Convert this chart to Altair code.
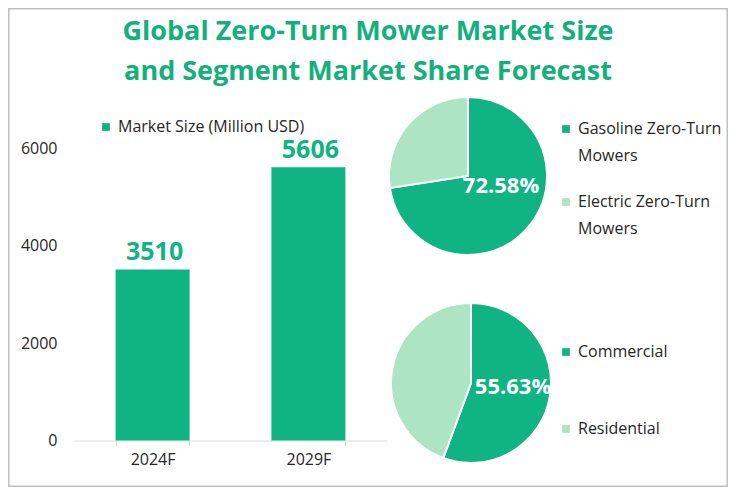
import altair as alt
import pandas as pd

# ---------------- data ----------------
title_lines = ["Global Zero-Turn Mower Market Size", "and Segment Market Share Forecast"]
years = ["2024F", "2029F"]
market_size = [3510, 5606]
bar_series = "Market Size (Million USD)"
y_ticks = [0, 2000, 4000, 6000]

type_labels = ["Gasoline Zero-Turn Mowers", "Electric Zero-Turn Mowers"]
type_share = [72.58, 27.42]
app_labels = ["Commercial", "Residential"]
app_share = [55.63, 44.37]

# ---------------- style ----------------
DARK = "#10B482"
LIGHT = "#ADE4C3"
TITLE_C = "#13B07D"
TXT = "#262626"
FONT = "Open Sans"
W, H = 720, 479

bar_df = pd.DataFrame({"year": years, "value": market_size, "series": [bar_series] * len(years)})
pie1_df = pd.DataFrame({"seg": type_labels, "share": type_share, "ord": list(range(len(type_labels)))})
pie2_df = pd.DataFrame({"seg": app_labels, "share": app_share, "ord": list(range(len(app_labels)))})
pie1_lbl = pd.DataFrame({"t": [f"{type_share[0]:.2f}%"]})
pie2_lbl = pd.DataFrame({"t": [f"{app_share[0]:.2f}%"]})

x_enc = alt.X(
    "year:N", sort=years,
    scale=alt.Scale(range=[66, 379], paddingInner=0.527, paddingOuter=0.268),
    axis=alt.Axis(title=None, labelAngle=0, offset=-46.5, domainColor="#D9D9D9",
                  tickColor="#D9D9D9", tickSize=5, tickBand="extent", grid=False,
                  labelFont=FONT, labelFontSize=16, labelColor=TXT, labelPadding=6),
)
y_enc = alt.Y(
    "value:Q",
    scale=alt.Scale(domain=[0, 6000], range=[432.5, 140], nice=False),
    axis=alt.Axis(title=None, values=y_ticks, format="d", grid=False, domain=False, ticks=False,
                  offset=-49, labelPadding=0, labelFont=FONT, labelFontSize=16,
                  labelColor=TXT),
)

bars = alt.Chart(bar_df).mark_bar(size=74).encode(
    x=x_enc, y=y_enc,
    color=alt.Color("series:N", scale=alt.Scale(domain=[bar_series], range=[DARK]),
                    legend=alt.Legend(title=None, orient="none", legendX=90, legendY=111,
                                      symbolType="square", symbolSize=60,
                                      symbolStrokeWidth=0, labelFont=FONT,
                                      labelFontSize=16, labelColor=TXT, labelOffset=4,
                                      labelLimit=300)),
)
bar_text = alt.Chart(bar_df).mark_text(
    baseline="alphabetic", dy=-9, dx=2, font=FONT, fontSize=25, fontWeight="bold", color=DARK
).encode(x=alt.X("year:N", sort=years), y="value:Q", text="value:Q")

pie1 = alt.Chart(pie1_df).mark_arc(outerRadius=79, stroke="white", strokeWidth=2).encode(
    theta=alt.Theta("share:Q", stack=True),
    order=alt.Order("ord:Q"),
    color=alt.Color("seg:N", scale=alt.Scale(domain=type_labels, range=[DARK, LIGHT]),
                    legend=alt.Legend(title=None, orient="none", legendX=550, legendY=113,
                                      symbolType="square", symbolSize=60, symbolStrokeWidth=0,
                                      labelFont=FONT, labelFontSize=16, labelColor=TXT,
                                      labelOffset=4, labelLimit=220, rowPadding=30,
                                      labelExpr="indexof(datum.label, ' Mowers') > 0 ? [replace(datum.label, ' Mowers', ''), 'Mowers'] : datum.label")),
    x=alt.value(460), y=alt.value(168),
)
pie1_t = alt.Chart(pie1_lbl).mark_text(
    font=FONT, fontSize=22, fontWeight="bold", color="white", baseline="middle"
).encode(text="t:N", x=alt.value(493), y=alt.value(178))

pie2 = alt.Chart(pie2_df).mark_arc(outerRadius=80, stroke="white", strokeWidth=2).encode(
    theta=alt.Theta("share:Q", stack=True),
    order=alt.Order("ord:Q"),
    color=alt.Color("seg:N", scale=alt.Scale(domain=app_labels, range=[DARK, LIGHT]),
                    legend=alt.Legend(title=None, orient="none", legendX=550, legendY=336,
                                      symbolType="square", symbolSize=60, symbolStrokeWidth=0,
                                      labelFont=FONT, labelFontSize=16, labelColor=TXT,
                                      labelOffset=4, rowPadding=61)),
    x=alt.value(463), y=alt.value(375),
)
pie2_t = alt.Chart(pie2_lbl).mark_text(
    font=FONT, fontSize=22, fontWeight="bold", color="white", baseline="middle"
).encode(text="t:N", x=alt.value(505), y=alt.value(379))

title = alt.Chart(pd.DataFrame({"k": [0]})).mark_text(
    text=title_lines, font=FONT, fontSize=27, fontWeight="bold", color=TITLE_C,
    baseline="alphabetic", align="center", lineHeight=40,
).encode(x=alt.value(360), y=alt.value(32))

chart = alt.layer(bars, bar_text, pie1, pie1_t, pie2, pie2_t, title).resolve_scale(
    color="independent", theta="independent"
).properties(
    width=W, height=H, autosize=alt.AutoSizeParams(type="none"), padding=0,
).configure(
    view=alt.ViewConfig(stroke="#BFBFBF", strokeWidth=3),
    style={"guide-label": {"lineHeight": 27}},
)

chart.save("out.html", embed_options={"renderer": "svg", "actions": False})
